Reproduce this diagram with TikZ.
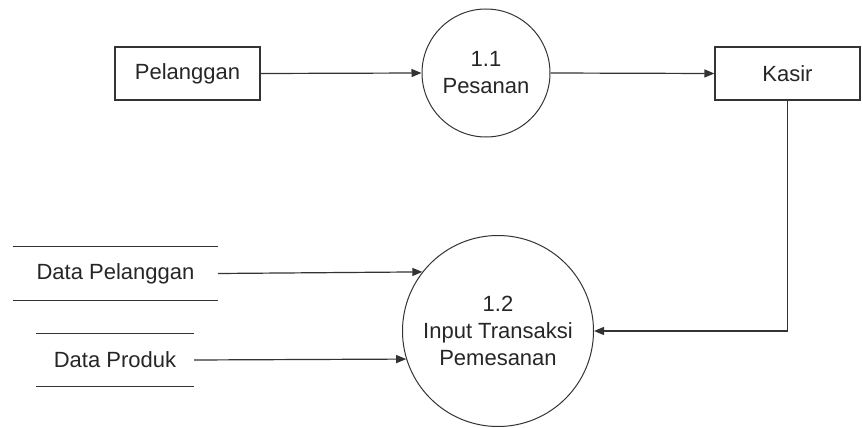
\documentclass[tikz,border=0pt]{standalone}
\usepackage{fontspec}
\setmainfont{Liberation Sans}
\usetikzlibrary{arrows.meta}
\begin{document}
\begin{tikzpicture}[x=1pt,y=-1pt,
  line/.style={draw=black!80, line width=1.2pt},
  flow/.style={line, -{Triangle[length=10pt,width=8pt]}},
  txt/.style={font=\fontsize{22}{27}\selectfont, text=black!85},
  entity/.style={line, txt, rectangle, minimum width=145pt, minimum height=53pt, inner sep=0pt},
  process/.style={draw=black!80, line width=1pt, txt, circle, inner sep=0pt, align=center},
  store/.style={txt, rectangle, inner sep=0pt}
]
\useasboundingbox (0,0) rectangle (863,428);

% external entities
\node[entity] (pel) at (187.5,73.5) {Pelanggan};
\node[entity] (kasir) at (787.5,73.5) {Kasir};

% processes
\node[process, minimum size=128pt] (p11) at (486,73) {1.1\\Pesanan};
\node[process, minimum size=191pt] (p12) at (498,331) {1.2\\Input Transaksi\\Pemesanan};

% data stores (open rectangles: top and bottom lines only)
\node[store, minimum width=205pt, minimum height=53pt] (dpel) at (115.5,273.5) {Data Pelanggan};
\node[store, minimum width=158pt, minimum height=52pt] (dprod) at (115,360) {Data Produk};
\foreach \s in {dpel,dprod}{
  \draw[line] (\s.north west) -- (\s.north east);
  \draw[line] (\s.south west) -- (\s.south east);
}

% data flows
\draw[flow] (pel.east) -- (p11.west);
\draw[flow] (p11.east) -- (kasir.west);
\draw[flow] (kasir.south) |- (p12.east);
\draw[flow] (dpel.east) -- (p12.142);
\draw[flow] (dprod.east) -- (p12.197);
\end{tikzpicture}
\end{document}
